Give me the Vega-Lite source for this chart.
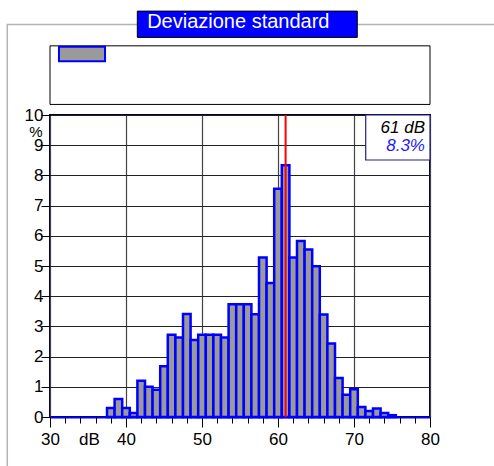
{
  "$schema": "https://vega.github.io/schema/vega-lite/v6.json",
  "width": 380,
  "height": 302,
  "autosize": {"type": "none"},
  "padding": {"left": 50, "top": 115, "right": 64, "bottom": 49},
  "background": "white",
  "config": {
    "font": "Liberation Sans",
    "view": {"stroke": "#000033", "strokeWidth": 2}
  },
  "resolve": {"axis": {"x": "independent", "y": "independent"}},
  "layer": [
    {
      "data": {"values": [{}]},
      "mark": {"type": "rect", "fill": null, "stroke": "#b4b4b4", "strokeWidth": 1.5},
      "encoding": {
        "x": {"datum": 24.38, "type": "quantitative", "scale": {"domain": [30, 80], "nice": false, "zero": false}, "axis": null},
        "x2": {"datum": 95},
        "y": {"datum": 13.0, "type": "quantitative", "scale": {"domain": [0, 10], "nice": false}, "axis": null},
        "y2": {"datum": -3}
      }
    },
    {
      "data": {"values": [{}]},
      "mark": {"type": "rect", "fill": "#0000ff", "stroke": "#000000", "strokeWidth": 1},
      "encoding": {
        "x": {"datum": 41.49, "type": "quantitative", "axis": null},
        "x2": {"datum": 70.43},
        "y": {"datum": 13.44, "type": "quantitative", "axis": null},
        "y2": {"datum": 12.57}
      }
    },
    {
      "data": {"values": [{"t": "Deviazione standard"}]},
      "mark": {"type": "text", "color": "white", "fontSize": 20, "align": "center", "baseline": "alphabetic"},
      "encoding": {
        "x": {"datum": 54.78, "type": "quantitative", "axis": null},
        "y": {"datum": 12.87, "type": "quantitative", "axis": null},
        "text": {"field": "t"}
      }
    },
    {
      "data": {"values": [{}]},
      "mark": {"type": "rect", "fill": "white", "stroke": "#000000", "strokeWidth": 1},
      "encoding": {
        "x": {"datum": 30, "type": "quantitative", "axis": null},
        "x2": {"datum": 80},
        "y": {"datum": 12.29, "type": "quantitative", "axis": null},
        "y2": {"datum": 10.35}
      }
    },
    {
      "data": {"values": [{}]},
      "mark": {"type": "rect", "fill": "#9a9a9a", "stroke": "#0000ff", "strokeWidth": 2},
      "encoding": {
        "x": {"datum": 31.18, "type": "quantitative", "axis": null},
        "x2": {"datum": 37.24},
        "y": {"datum": 12.26, "type": "quantitative", "axis": null},
        "y2": {"datum": 11.78}
      }
    },
    {
      "data": {
        "values": [
          {"from": 37.5, "to": 38.5, "pct": 0.3},
          {"from": 38.5, "to": 39.5, "pct": 0.6},
          {"from": 39.5, "to": 40.5, "pct": 0.3},
          {"from": 40.5, "to": 41.5, "pct": 0.13},
          {"from": 41.5, "to": 42.5, "pct": 1.2},
          {"from": 42.5, "to": 43.5, "pct": 1.0},
          {"from": 43.5, "to": 44.5, "pct": 0.9},
          {"from": 44.5, "to": 45.5, "pct": 1.68},
          {"from": 45.5, "to": 46.5, "pct": 2.72},
          {"from": 46.5, "to": 47.5, "pct": 2.63},
          {"from": 47.5, "to": 48.5, "pct": 3.41},
          {"from": 48.5, "to": 49.5, "pct": 2.55},
          {"from": 49.5, "to": 50.5, "pct": 2.72},
          {"from": 50.5, "to": 51.5, "pct": 2.72},
          {"from": 51.5, "to": 52.5, "pct": 2.72},
          {"from": 52.5, "to": 53.5, "pct": 2.63},
          {"from": 53.5, "to": 54.5, "pct": 3.73},
          {"from": 54.5, "to": 55.5, "pct": 3.73},
          {"from": 55.5, "to": 56.5, "pct": 3.73},
          {"from": 56.5, "to": 57.5, "pct": 3.4},
          {"from": 57.5, "to": 58.5, "pct": 5.28},
          {"from": 58.5, "to": 59.5, "pct": 4.44},
          {"from": 59.5, "to": 60.5, "pct": 7.56},
          {"from": 60.5, "to": 61.5, "pct": 8.34},
          {"from": 61.5, "to": 62.5, "pct": 5.28},
          {"from": 62.5, "to": 63.5, "pct": 5.83},
          {"from": 63.5, "to": 64.5, "pct": 5.55},
          {"from": 64.5, "to": 65.5, "pct": 4.99},
          {"from": 65.5, "to": 66.5, "pct": 3.39},
          {"from": 66.5, "to": 67.5, "pct": 2.43},
          {"from": 67.5, "to": 68.5, "pct": 1.29},
          {"from": 68.5, "to": 69.5, "pct": 0.74},
          {"from": 69.5, "to": 70.5, "pct": 0.92},
          {"from": 70.5, "to": 71.5, "pct": 0.33},
          {"from": 71.5, "to": 72.5, "pct": 0.2},
          {"from": 72.5, "to": 73.5, "pct": 0.28},
          {"from": 73.5, "to": 74.5, "pct": 0.13},
          {"from": 74.5, "to": 75.5, "pct": 0.06}
        ]
      },
      "mark": {"type": "rect", "fill": "#9a9a9a", "stroke": "#0000ff", "strokeWidth": 2.5},
      "encoding": {
        "x": {
          "field": "from", "type": "quantitative",
          "axis": {
            "orient": "bottom",
            "values": [30, 40, 50, 60, 70, 80],
            "tickSize": 10, "tickColor": "#000000", "tickWidth": 1,
            "labelFontSize": 17, "labelColor": "#000000", "labelPadding": 4, "labelFlush": false,
            "domainColor": "#0000ff", "domainWidth": 2,
            "grid": true, "gridColor": "#444444", "gridWidth": 1.2,
            "title": "dB", "titleFontSize": 17, "titleFontWeight": "normal", "titleColor": "#000000",
            "titleX": 39, "titleY": 14, "titleBaseline": "top", "titleAlign": "center"
          }
        },
        "x2": {"field": "to"},
        "y": {
          "field": "pct", "type": "quantitative",
          "axis": {
            "orient": "left",
            "values": [0, 1, 2, 3, 4, 5, 6, 7, 8, 9, 10],
            "tickSize": 9, "tickColor": "#000000",
            "labelFontSize": 17, "labelColor": "#000000", "labelPadding": -2, "labelFlush": false,
            "domain": false,
            "grid": true, "gridColor": "#222222", "gridWidth": 1,
            "title": "%", "titleAngle": 0, "titleFontSize": 15, "titleFontWeight": "normal", "titleColor": "#000000",
            "titleX": -8, "titleY": 16, "titleAlign": "right", "titleBaseline": "middle"
          }
        }
      }
    },
    {
      "data": {"values": [{}]},
      "mark": {"type": "rule", "color": "#ff0000", "strokeWidth": 2},
      "encoding": {
        "x": {
          "datum": 61, "type": "quantitative",
          "axis": {
            "orient": "bottom",
            "values": [32, 34, 36, 38, 42, 44, 46, 48, 52, 54, 56, 58, 62, 64, 66, 68, 72, 74, 76, 78],
            "labels": false, "tickSize": 6, "tickColor": "#000000", "grid": false, "domain": false, "title": null
          }
        },
        "y": {"datum": 0, "type": "quantitative", "axis": null},
        "y2": {"datum": 10}
      }
    },
    {
      "data": {"values": [{}]},
      "mark": {"type": "rect", "fill": "white", "stroke": "#202080", "strokeWidth": 1.2},
      "encoding": {
        "x": {"datum": 71.54, "type": "quantitative", "axis": null},
        "x2": {"datum": 80},
        "y": {"datum": 10, "type": "quantitative", "axis": null},
        "y2": {"datum": 8.51}
      }
    },
    {
      "data": {"values": [{"t": "61 dB"}]},
      "mark": {"type": "text", "color": "#000000", "fontSize": 17, "fontStyle": "italic", "align": "right", "baseline": "alphabetic"},
      "encoding": {
        "x": {"datum": 79.34, "type": "quantitative", "axis": null},
        "y": {"datum": 9.39, "type": "quantitative", "axis": null},
        "text": {"field": "t"}
      }
    },
    {
      "data": {"values": [{"t": "8.3%"}]},
      "mark": {"type": "text", "color": "#1a1aff", "fontSize": 17, "fontStyle": "italic", "align": "right", "baseline": "alphabetic"},
      "encoding": {
        "x": {"datum": 79.34, "type": "quantitative", "axis": null},
        "y": {"datum": 8.82, "type": "quantitative", "axis": null},
        "text": {"field": "t"}
      }
    }
  ]
}
